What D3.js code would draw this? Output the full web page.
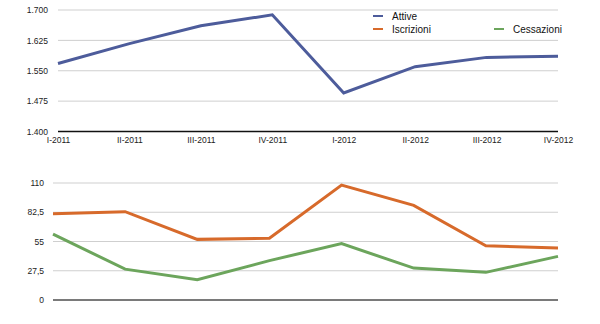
<!DOCTYPE html>
<html>
<head>
<meta charset="utf-8">
<script src="https://cdn.jsdelivr.net/npm/d3@7"></script>
<style>
  html, body { margin: 0; padding: 0; background: #fff; }
  svg { display: block; font-family: "Liberation Sans", Arial, Helvetica, sans-serif; }
</style>
</head>
<body>
<svg id="chart" width="600" height="324"></svg>
<script>
// Quarters
const quarters = ["I-2011", "II-2011", "III-2011", "IV-2011", "I-2012", "II-2012", "III-2012", "IV-2012"];

// Active businesses (thousands)
const attive = [1.568, 1.617, 1.661, 1.688, 1.495, 1.560, 1.583, 1.586];
// New registrations
const iscrizioni = [81, 83, 57, 58, 108, 89, 51, 49];
// Closures
const cessazioni = [62, 29, 19, 37, 53, 30, 26, 41];

const topTicks = [1.400, 1.475, 1.550, 1.625, 1.700];
const bottomTicks = [0, 27.5, 55, 82.5, 110];

const seriesNames = ["Attive", "Iscrizioni", "Cessazioni"];
const colors = { Attive: "#4d5c9b", Iscrizioni: "#d76a2b", Cessazioni: "#6ca55c" };

const svg = d3.select("#chart");
const itFmt = d3.formatLocale({ decimal: ",", thousands: ".", grouping: [3], currency: ["€", ""] });

// ---------- Upper panel: Attive ----------
const xTop = d3.scalePoint().domain(quarters).range([58, 558]);
const yTop = d3.scaleLinear().domain([1.4, 1.7]).range([131.5, 10]);

const gTop = svg.append("g");
gTop.selectAll("line.grid").data(topTicks.slice(1)).join("line")
  .attr("x1", 58).attr("x2", 558)
  .attr("y1", d => yTop(d)).attr("y2", d => yTop(d))
  .attr("stroke", "#cfcfcf").attr("stroke-width", 1);

const yAxisTop = d3.axisLeft(yTop).tickValues(topTicks).tickSize(0).tickPadding(0)
  .tickFormat(d => d3.format(".3f")(d));
gTop.append("g").attr("transform", "translate(48,0)").call(yAxisTop)
  .call(g => g.select(".domain").remove())
  .selectAll("text").attr("font-size", "8.5px").attr("fill", "#222");

gTop.append("line")
  .attr("x1", 58).attr("x2", 558)
  .attr("y1", yTop(1.4)).attr("y2", yTop(1.4))
  .attr("stroke", "#111").attr("stroke-width", 1.5);

const xAxisTop = d3.axisBottom(xTop).tickSize(0).tickPadding(0);
gTop.append("g").attr("transform", "translate(0,137)").call(xAxisTop)
  .call(g => g.select(".domain").remove())
  .selectAll("text").attr("font-size", "8.5px").attr("fill", "#222");

const lineTop = d3.line().x((d, i) => xTop(quarters[i])).y(d => yTop(d));
gTop.append("path").datum(attive)
  .attr("d", lineTop).attr("fill", "none")
  .attr("stroke", colors.Attive).attr("stroke-width", 3).attr("stroke-linejoin", "miter");

// ---------- Lower panel: Iscrizioni / Cessazioni ----------
const xBot = d3.scalePoint().domain(quarters).range([53, 558]);
const yBot = d3.scaleLinear().domain([0, 110]).range([300, 183]);

const gBot = svg.append("g");
gBot.selectAll("line.grid").data(bottomTicks.slice(1)).join("line")
  .attr("x1", 53).attr("x2", 558)
  .attr("y1", d => yBot(d)).attr("y2", d => yBot(d))
  .attr("stroke", "#cfcfcf").attr("stroke-width", 1);

const yAxisBot = d3.axisLeft(yBot).tickValues(bottomTicks).tickSize(0).tickPadding(0)
  .tickFormat(d => itFmt.format(",")(d));
gBot.append("g").attr("transform", "translate(44,0)").call(yAxisBot)
  .call(g => g.select(".domain").remove())
  .selectAll("text").attr("font-size", "8.5px").attr("fill", "#222");

gBot.append("line")
  .attr("x1", 53).attr("x2", 558)
  .attr("y1", yBot(0)).attr("y2", yBot(0))
  .attr("stroke", "#7a7a7a").attr("stroke-width", 2);

const lineBot = d3.line().x((d, i) => xBot(quarters[i])).y(d => yBot(d));
gBot.append("path").datum(iscrizioni)
  .attr("d", lineBot).attr("fill", "none")
  .attr("stroke", colors.Iscrizioni).attr("stroke-width", 3);
gBot.append("path").datum(cessazioni)
  .attr("d", lineBot).attr("fill", "none")
  .attr("stroke", colors.Cessazioni).attr("stroke-width", 3);

// ---------- Legend ----------
const legendPos = {
  Attive: [373, 16],
  Iscrizioni: [373, 29],
  Cessazioni: [494, 29]
};
const legend = svg.append("g");
seriesNames.forEach(name => {
  const [lx, ly] = legendPos[name];
  legend.append("line")
    .attr("x1", lx).attr("x2", lx + 10).attr("y1", ly).attr("y2", ly)
    .attr("stroke", colors[name]).attr("stroke-width", 2);
  legend.append("text")
    .attr("x", lx + 19).attr("y", ly).attr("dy", "0.35em")
    .attr("font-size", "10px").attr("fill", "#111")
    .text(name);
});
</script>
</body>
</html>
